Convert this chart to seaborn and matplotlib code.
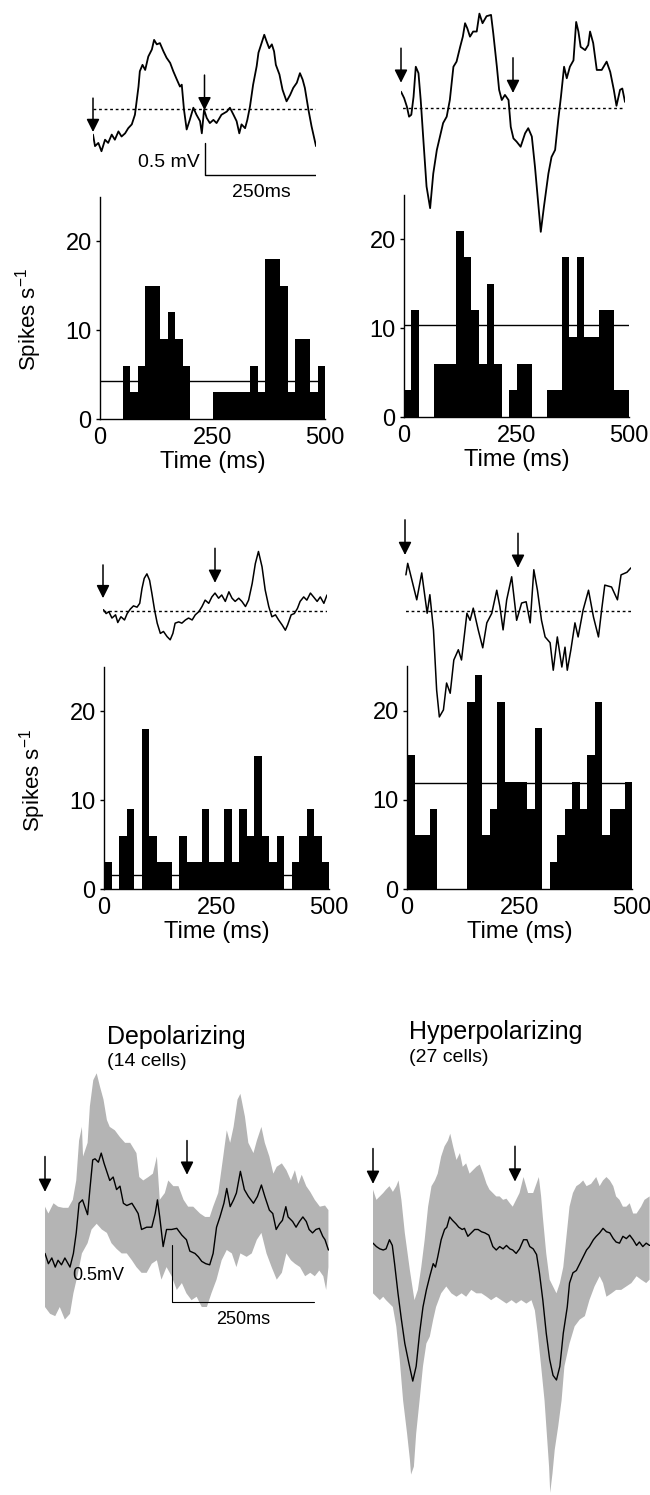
import numpy as np
import pandas as pd
import matplotlib
matplotlib.use("Agg")
import matplotlib.pyplot as plt
import seaborn as sns

# ---- data ---------------------------------------------------------------
# PSTHs: 30 bins over 0-500 ms (spikes/s)
psth_a = [0, 0, 0, 6, 3, 6, 15, 15, 9, 12, 9, 6, 0, 0, 0,
          3, 3, 3, 3, 3, 6, 3, 18, 18, 15, 3, 9, 9, 3, 6]
psth_b = [3, 12, 0, 0, 6, 6, 6, 21, 18, 12, 6, 15, 6, 0, 3,
          6, 6, 0, 0, 3, 3, 18, 9, 18, 9, 9, 12, 12, 3, 3]
psth_c = [3, 0, 6, 9, 0, 18, 6, 3, 3, 0, 6, 3, 3, 9, 3,
          3, 9, 3, 9, 6, 15, 6, 3, 6, 0, 3, 6, 9, 6, 3]
psth_d = [15, 6, 6, 9, 0, 0, 0, 0, 21, 24, 6, 9, 21, 12, 12,
          12, 9, 18, 0, 3, 6, 9, 12, 9, 15, 21, 6, 9, 9, 12]
# background firing rate (horizontal line)
rate_a, rate_b, rate_c, rate_d = 4.3, 10.4, 1.6, 11.9

stim_ms = [0, 250]

# single-cell LFP traces: (time ms, mV relative to dotted baseline)
trace_a = [(0, -0.40), (4.5, -0.58), (12, -0.53), (19, -0.66), (27, -0.48), (34, -0.53),
           (42, -0.40), (49, -0.48), (57, -0.35), (64, -0.43), (72, -0.38), (79, -0.30),
           (87, -0.24), (94, -0.09), (102, 0.35), (105, 0.59), (111, 0.69), (117, 0.61),
           (124, 0.82), (132, 0.93), (137, 1.08), (143, 1.01), (150, 1.03), (158, 0.90),
           (165, 0.80), (173, 0.72), (180, 0.59), (188, 0.46), (195, 0.35), (199, 0.38),
           (204, -0.01), (210, -0.32), (217, -0.17), (225, 0.02), (232, -0.09), (240, -0.19),
           (244, -0.38), (249, -0.01), (255, -0.14), (262, -0.22), (270, -0.17), (277, -0.22),
           (288, -0.09), (300, -0.04), (307, 0.02), (315, -0.09), (322, -0.19), (328, -0.38),
           (333, -0.24), (341, -0.30), (346, -0.17), (352, 0.04), (359, 0.38), (367, 0.67),
           (371, 0.88), (378, 1.03), (384, 1.16), (389, 1.06), (395, 0.95), (401, 1.01),
           (406, 0.90), (410, 0.69), (418, 0.54), (425, 0.30), (434, 0.12), (442, 0.22),
           (449, 0.33), (457, 0.41), (464, 0.56), (470, 0.46), (475, 0.33), (483, -0.01),
           (490, -0.27), (500, -0.58)]
trace_b = [(0, 0.25), (7, 0.15), (13, 0.02), (18, -0.14), (23, -0.11), (28, 0.17), (33, 0.64),
           (39, 0.54), (44, 0.12), (50, -0.51), (57, -1.23), (65, -1.57), (72, -1.03),
           (80, -0.66), (87, -0.45), (94, -0.24), (102, -0.14), (109, 0.12), (117, 0.64),
           (124, 0.72), (132, 0.95), (138, 1.11), (143, 1.32), (148, 1.24), (154, 1.11),
           (161, 1.19), (169, 1.19), (175, 1.47), (182, 1.32), (191, 1.43), (201, 1.45),
           (206, 1.16), (214, 0.64), (219, 0.28), (225, 0.12), (232, 0.20), (240, 0.12),
           (245, -0.30), (251, -0.48), (258, -0.53), (267, -0.61), (277, -0.40), (284, -0.32),
           (292, -0.45), (299, -0.92), (307, -1.55), (312, -1.94), (319, -1.55), (329, -1.03),
           (336, -0.77), (344, -0.66), (351, -0.19), (357, 0.17), (364, 0.64), (370, 0.46),
           (377, 0.64), (385, 0.74), (391, 1.34), (396, 1.19), (401, 0.95), (411, 0.90),
           (418, 0.98), (422, 1.19), (429, 1.01), (437, 0.59), (448, 0.59), (459, 0.72),
           (467, 0.56), (475, 0.28), (481, 0.03), (489, 0.28), (494, 0.30), (500, 0.09)]
trace_c = [(1, 0.02), (7, -0.04), (13, -0.01), (20, -0.11), (28, -0.06), (33, -0.18),
           (40, -0.09), (48, -0.14), (54, -0.04), (61, 0.03), (68, 0.08), (76, 0.06),
           (82, 0.12), (87, 0.35), (92, 0.51), (98, 0.58), (104, 0.48), (109, 0.28),
           (115, 0.02), (121, -0.19), (128, -0.35), (135, -0.32), (143, -0.40), (150, -0.45),
           (156, -0.35), (161, -0.19), (169, -0.17), (176, -0.19), (184, -0.14), (191, -0.11),
           (199, -0.14), (206, -0.06), (214, -0.01), (221, 0.07), (228, 0.17), (236, 0.12),
           (243, 0.22), (250, 0.28), (258, 0.20), (265, 0.25), (273, 0.15), (281, 0.30),
           (288, 0.20), (295, 0.15), (303, 0.20), (310, 0.15), (318, 0.07), (325, 0.17),
           (333, 0.43), (340, 0.74), (347, 0.93), (355, 0.69), (362, 0.33), (370, 0.07),
           (377, -0.09), (385, -0.06), (392, -0.14), (400, -0.22), (407, -0.30), (412, -0.22),
           (420, -0.06), (427, -0.04), (434, 0.04), (440, 0.15), (448, 0.22), (455, 0.17),
           (463, 0.28), (470, 0.22), (478, 0.15), (485, 0.22), (493, 0.12), (500, 0.25)]
trace_d = [(2, 0.56), (6, 0.74), (11, 0.60), (26, 0.17), (37, 0.59), (49, -0.04), (55, 0.25),
           (63, -0.30), (70, -1.24), (76, -1.66), (85, -1.55), (92, -1.13), (100, -1.29),
           (108, -0.77), (118, -0.61), (125, -0.77), (137, -0.04), (144, -0.15), (151, 0.04),
           (162, -0.30), (172, -0.58), (181, -0.19), (192, -0.04), (203, 0.32), (210, 0.06),
           (217, -0.30), (225, 0.17), (236, 0.53), (247, -0.15), (258, 0.12), (268, 0.14),
           (277, -0.19), (285, 0.64), (293, 0.32), (302, -0.15), (310, -0.41), (321, -0.50),
           (328, -0.93), (337, -0.41), (347, -0.88), (354, -0.57), (359, -0.93), (367, -0.61),
           (376, -0.19), (383, -0.41), (394, 0.01), (406, 0.32), (417, -0.10), (428, -0.41),
           (435, 0.01), (442, 0.40), (457, 0.37), (470, 0.17), (478, 0.56), (491, 0.60),
           (500, 0.67)]

# population averages (mean and +/- band), (time ms, mV)
dep_mean = [(0, -0.03), (6, -0.12), (12, -0.07), (18, -0.15), (23, -0.09), (29, -0.13),
            (35, -0.07), (44, -0.15), (50, -0.03), (55, 0.15), (60, 0.41), (66, 0.44),
            (75, 0.31), (79, 0.53), (84, 0.79), (88, 0.80), (94, 0.77), (99, 0.85),
            (104, 0.76), (110, 0.67), (114, 0.61), (120, 0.64), (126, 0.53), (132, 0.56),
            (138, 0.41), (144, 0.39), (153, 0.41), (158, 0.37), (164, 0.32), (170, 0.18),
            (179, 0.20), (188, 0.20), (194, 0.32), (198, 0.44), (202, 0.29), (208, 0.03),
            (214, 0.18), (223, 0.18), (232, 0.19), (241, 0.13), (249, 0.09), (255, -0.01),
            (264, -0.03), (270, -0.06), (276, -0.10), (283, -0.12), (290, -0.13), (296, -0.03),
            (302, 0.20), (308, 0.29), (315, 0.41), (320, 0.54), (326, 0.38), (332, 0.44),
            (337, 0.50), (344, 0.69), (351, 0.53), (358, 0.47), (367, 0.41), (374, 0.47),
            (381, 0.57), (387, 0.47), (395, 0.35), (401, 0.32), (407, 0.18), (413, 0.23),
            (418, 0.26), (424, 0.38), (428, 0.29), (436, 0.25), (442, 0.20), (448, 0.25),
            (454, 0.29), (460, 0.25), (465, 0.18), (471, 0.15), (477, 0.18), (483, 0.19),
            (489, 0.12), (493, 0.09), (499, 0.00)]
dep_upper = [(0, 0.38), (6, 0.32), (15, 0.41), (23, 0.38), (32, 0.37), (41, 0.37), (49, 0.44),
             (55, 0.61), (60, 0.96), (65, 1.08), (67, 0.82), (75, 0.94), (79, 1.26), (85, 1.49),
             (91, 1.55), (97, 1.43), (103, 1.32), (109, 1.14), (114, 1.08), (123, 1.05),
             (132, 0.99), (141, 0.94), (150, 0.94), (161, 0.85), (166, 0.64), (173, 0.61),
             (182, 0.64), (190, 0.67), (197, 0.82), (202, 0.44), (211, 0.50), (217, 0.61),
             (226, 0.56), (235, 0.56), (244, 0.44), (252, 0.38), (261, 0.38), (273, 0.32),
             (282, 0.29), (290, 0.29), (296, 0.38), (305, 0.50), (313, 0.79), (320, 1.05),
             (326, 0.94), (332, 1.08), (339, 1.32), (344, 1.37), (352, 1.17), (358, 0.94),
             (367, 0.85), (373, 0.96), (381, 1.08), (387, 0.94), (395, 0.82), (402, 0.67),
             (408, 0.73), (417, 0.76), (425, 0.70), (433, 0.61), (440, 0.70), (446, 0.58),
             (452, 0.66), (460, 0.56), (467, 0.51), (475, 0.44), (484, 0.38), (493, 0.39),
             (499, 0.35)]
dep_lower = [(0, -0.50), (9, -0.56), (18, -0.58), (26, -0.50), (35, -0.61), (44, -0.56),
             (50, -0.38), (57, -0.23), (65, -0.03), (75, 0.06), (82, 0.18), (91, 0.23),
             (100, 0.18), (109, 0.15), (117, 0.06), (126, 0.01), (135, -0.03), (144, -0.03),
             (153, -0.09), (161, -0.15), (170, -0.20), (179, -0.20), (188, -0.12), (197, -0.09),
             (205, -0.26), (214, -0.15), (223, -0.23), (232, -0.35), (241, -0.29), (249, -0.38),
             (258, -0.44), (267, -0.41), (276, -0.50), (285, -0.50), (293, -0.38), (302, -0.26),
             (311, -0.09), (320, 0.00), (329, -0.03), (337, -0.15), (344, -0.03), (355, -0.06),
             (364, -0.03), (373, 0.09), (381, 0.15), (390, -0.03), (399, -0.15), (408, -0.26),
             (417, -0.20), (425, -0.03), (433, -0.09), (440, -0.12), (449, -0.15), (458, -0.23),
             (467, -0.20), (475, -0.23), (483, -0.18), (490, -0.23), (495, -0.35), (499, -0.15)]
hyp_mean = [(0, 0.06), (6, 0.03), (12, 0.01), (18, 0.00), (23, 0.01), (29, 0.09), (34, 0.04),
            (38, -0.12), (44, -0.38), (50, -0.61), (56, -0.82), (63, -0.99), (70, -1.15),
            (76, -1.02), (82, -0.73), (88, -0.50), (94, -0.35), (100, -0.23), (106, -0.12),
            (110, -0.15), (114, -0.06), (120, 0.09), (126, 0.18), (130, 0.20), (135, 0.29),
            (140, 0.26), (146, 0.23), (151, 0.20), (157, 0.18), (161, 0.19), (167, 0.12),
            (173, 0.15), (179, 0.18), (185, 0.18), (191, 0.16), (197, 0.15), (204, 0.13),
            (211, 0.03), (217, 0.00), (223, 0.03), (229, 0.01), (235, 0.04), (241, 0.01),
            (246, 0.00), (252, -0.03), (258, 0.01), (265, 0.09), (271, 0.09), (276, 0.03),
            (282, 0.01), (288, -0.04), (293, -0.20), (299, -0.44), (305, -0.73), (311, -0.96),
            (317, -1.10), (323, -1.14), (329, -1.02), (335, -0.73), (342, -0.50), (346, -0.29),
            (352, -0.20), (358, -0.18), (364, -0.12), (370, -0.06), (376, 0.00), (381, 0.03),
            (388, 0.09), (393, 0.12), (399, 0.15), (405, 0.19), (411, 0.16), (417, 0.15),
            (423, 0.10), (428, 0.07), (434, 0.06), (440, 0.12), (446, 0.10), (452, 0.13),
            (458, 0.09), (464, 0.04), (469, 0.07), (475, 0.03), (481, 0.06), (487, 0.04)]
hyp_upper = [(0, 0.53), (6, 0.44), (12, 0.47), (18, 0.50), (23, 0.53), (29, 0.56), (35, 0.51),
             (41, 0.56), (45, 0.61), (50, 0.44), (56, 0.15), (65, -0.18), (73, -0.44),
             (79, -0.35), (85, -0.15), (91, 0.09), (97, 0.38), (103, 0.56), (109, 0.61),
             (114, 0.67), (120, 0.82), (126, 0.91), (132, 0.96), (136, 1.02), (141, 0.91),
             (147, 0.79), (153, 0.85), (158, 0.73), (164, 0.76), (170, 0.67), (176, 0.70),
             (182, 0.73), (188, 0.75), (194, 0.67), (200, 0.58), (205, 0.53), (211, 0.50),
             (217, 0.47), (223, 0.47), (229, 0.44), (235, 0.45), (241, 0.41), (246, 0.38),
             (252, 0.44), (258, 0.50), (265, 0.64), (273, 0.50), (282, 0.50), (292, 0.64),
             (296, 0.47), (299, 0.29), (305, -0.03), (311, -0.26), (317, -0.32), (323, -0.38),
             (329, -0.29), (335, -0.15), (340, 0.09), (346, 0.38), (352, 0.50), (358, 0.56),
             (364, 0.58), (370, 0.61), (376, 0.56), (384, 0.58), (393, 0.64), (399, 0.56),
             (405, 0.61), (411, 0.64), (417, 0.61), (423, 0.56), (428, 0.47), (434, 0.44),
             (440, 0.38), (446, 0.38), (452, 0.41), (458, 0.32), (464, 0.32), (472, 0.38),
             (478, 0.44), (487, 0.47)]
hyp_lower = [(0, -0.38), (6, -0.41), (12, -0.44), (18, -0.41), (23, -0.44), (29, -0.47),
             (35, -0.50), (41, -0.67), (47, -0.96), (53, -1.32), (60, -1.61), (65, -1.84),
             (67, -1.97), (72, -1.90), (76, -1.61), (82, -1.32), (88, -1.02), (94, -0.82),
             (100, -0.76), (106, -0.61), (111, -0.50), (120, -0.38), (129, -0.32), (138, -0.38),
             (147, -0.41), (156, -0.38), (164, -0.41), (173, -0.35), (182, -0.38), (191, -0.38),
             (200, -0.41), (208, -0.44), (217, -0.41), (226, -0.44), (235, -0.47), (244, -0.44),
             (252, -0.47), (261, -0.44), (270, -0.47), (279, -0.44), (285, -0.53), (290, -0.73),
             (296, -1.02), (302, -1.32), (306, -1.61), (310, -1.90), (312, -2.13), (316, -1.96),
             (320, -1.75), (326, -1.55), (332, -1.32), (337, -1.02), (346, -0.82), (355, -0.67),
             (364, -0.61), (373, -0.58), (381, -0.44), (390, -0.32), (399, -0.23), (405, -0.29),
             (411, -0.41), (420, -0.38), (428, -0.35), (437, -0.35), (446, -0.32), (455, -0.29),
             (464, -0.23), (472, -0.26), (481, -0.29), (487, -0.26)]

# ---- layout helpers (pixel boxes on a 650 x 1495 canvas) -----------------
W, H = 650, 1495
sns.set_style("white")
plt.rcParams["font.family"] = ["Liberation Sans", "DejaVu Sans"]
plt.rcParams["mathtext.fontset"] = "custom"
plt.rcParams["mathtext.rm"] = "Liberation Sans"
for key in ("text.color", "axes.labelcolor", "xtick.color", "ytick.color"):
    plt.rcParams[key] = "black"

fig = plt.figure(figsize=(W / 100, H / 100), dpi=100)


def px_axes(x0, x1, y0, y1):
    ax = fig.add_axes([x0 / W, 1 - y1 / H, (x1 - x0) / W, (y1 - y0) / H])
    ax.set_facecolor("none")
    return ax


def trace_axes(x0, x1, y_top, y_bot, base_px, px_per_mv):
    ax = px_axes(x0, x1, y_top, y_bot)
    ax.set_xlim(0, 500)
    ax.set_ylim((base_px - y_bot) / px_per_mv, (base_px - y_top) / px_per_mv)
    ax.axis("off")
    return ax


def draw_trace(ax, pairs, lw=1.3):
    t, v = zip(*pairs)
    sns.lineplot(x=list(t), y=list(v), sort=False, estimator=None,
                 color="black", lw=lw, ax=ax)


def draw_arrows(ax, tails, tips):
    for t, v0, v1 in zip(stim_ms, tails, tips):
        ax.annotate("", xy=(t, v1), xytext=(t, v0), annotation_clip=False,
                    arrowprops=dict(arrowstyle="-|>,head_length=0.6,head_width=0.3",
                                    color="black", lw=1.1, mutation_scale=13,
                                    shrinkA=0, shrinkB=0))


def psth_axes(x0, x1, y_top, y_bot, heights, rate, ylabel_y=None):
    ax = px_axes(x0, x1, y_top, y_bot)
    nbins = len(heights)
    width = 500 / nbins
    df = pd.DataFrame({"t": [width * (i + 0.5) for i in range(nbins)],
                       "rate": heights})
    sns.histplot(data=df, x="t", weights="rate", binwidth=width, binrange=(0, 500),
                 element="step", fill=True, color="black", alpha=1, linewidth=0, ax=ax)
    ax.hlines(rate, 0, 500, color="black", lw=1)
    ax.set_xlim(0, 500)
    ax.set_ylim(0, 25)
    ax.set_xticks([0, 250, 500])
    ax.set_yticks([0, 10, 20])
    ax.tick_params(axis="x", length=0, pad=6, labelsize=17)
    ax.tick_params(axis="y", length=3, width=1, pad=3, labelsize=17, left=True)
    sns.despine(ax=ax)
    for s in ("left", "bottom"):
        ax.spines[s].set_linewidth(1)
        ax.spines[s].set_color("black")
    ax.set_xlabel("Time (ms)", fontsize=17, labelpad=1)
    if ylabel_y is not None:
        ax.set_ylabel("Spikes s$^{-1}$", fontsize=16)
        ax.yaxis.set_label_coords(-0.25, ylabel_y)
    else:
        ax.set_ylabel("")
    return ax


# ---- panel A --------------------------------------------------------------
psth_axes(100, 325, 197, 419, psth_a, rate_a, ylabel_y=0.45)
ax = trace_axes(93, 316, 10, 200, 109, 64)
ax.hlines(0, 0, 500, color="black", lw=1, linestyles=(0, (2, 2)))
draw_trace(ax, trace_a)
draw_arrows(ax, [0.17, 0.53], [-0.36, -0.02])
ax.plot([250, 250, 500], [-0.53, -1.03, -1.03], color="black", lw=1)
ax.text(240, -0.84, "0.5 mV", ha="right", va="center", fontsize=14)
ax.text(378, -1.31, "250ms", ha="center", va="center", fontsize=14)

# ---- panel B --------------------------------------------------------------
psth_axes(404, 629, 195, 417, psth_b, rate_b)
ax = trace_axes(401, 625, 0, 240, 107.7, 64)
ax.hlines(0, -10, 500, color="black", lw=1, linestyles=(0, (2, 2)))
draw_trace(ax, trace_b)
draw_arrows(ax, [0.93, 0.78], [0.39, 0.23])

# ---- panel C --------------------------------------------------------------
psth_axes(104, 329, 667, 889, psth_c, rate_c, ylabel_y=0.49)
ax = trace_axes(103, 327, 530, 730, 611, 64)
ax.hlines(0, 0, 500, color="black", lw=1, linestyles=(0, (2, 2)))
draw_trace(ax, trace_c, lw=1.1)
draw_arrows(ax, [0.72, 0.98], [0.20, 0.44])

# ---- panel D --------------------------------------------------------------
psth_axes(407, 632, 666, 889, psth_d, rate_d)
ax = trace_axes(405, 631, 505, 730, 610.7, 64)
ax.hlines(0, -10, 500, color="black", lw=1, linestyles=(0, (2, 2)))
draw_trace(ax, trace_d, lw=1.1)
draw_arrows(ax, [1.42, 1.21], [0.87, 0.67])

# ---- population averages --------------------------------------------------
band_color = "#b4b4b4"


def draw_band(ax, upper, lower, mean):
    tu, vu = zip(*upper)
    tl, vl = zip(*lower)
    ax.fill(list(tu) + list(tl[::-1]), list(vu) + list(vl[::-1]),
            color=band_color, lw=0)
    draw_trace(ax, mean, lw=1.0)


ax = trace_axes(45, 329, 1000, 1335, 1250, 114)
draw_band(ax, dep_upper, dep_lower, dep_mean)
draw_arrows(ax, [0.82, 0.96], [0.51, 0.66])
ax.plot([224, 224, 474], [0.04, -0.46, -0.46], color="black", lw=0.8)
ax.text(93, -0.22, "0.5mV", ha="center", va="center", fontsize=13)
ax.text(349, -0.61, "250ms", ha="center", va="center", fontsize=13)

ax = trace_axes(373, 657, 1000, 1495, 1250, 114)
draw_band(ax, hyp_upper, hyp_lower, hyp_mean)
draw_arrows(ax, [0.89, 0.91], [0.58, 0.60])

fig.text(107 / W, 1 - 1037 / H, "Depolarizing", ha="left", va="center", fontsize=18)
fig.text(107 / W, 1 - 1062 / H, "(14 cells)", ha="left", va="center", fontsize=14)
fig.text(409 / W, 1 - 1032 / H, "Hyperpolarizing", ha="left", va="center", fontsize=18)
fig.text(409 / W, 1 - 1058 / H, "(27 cells)", ha="left", va="center", fontsize=14)

fig.savefig("out.png", dpi=100)
